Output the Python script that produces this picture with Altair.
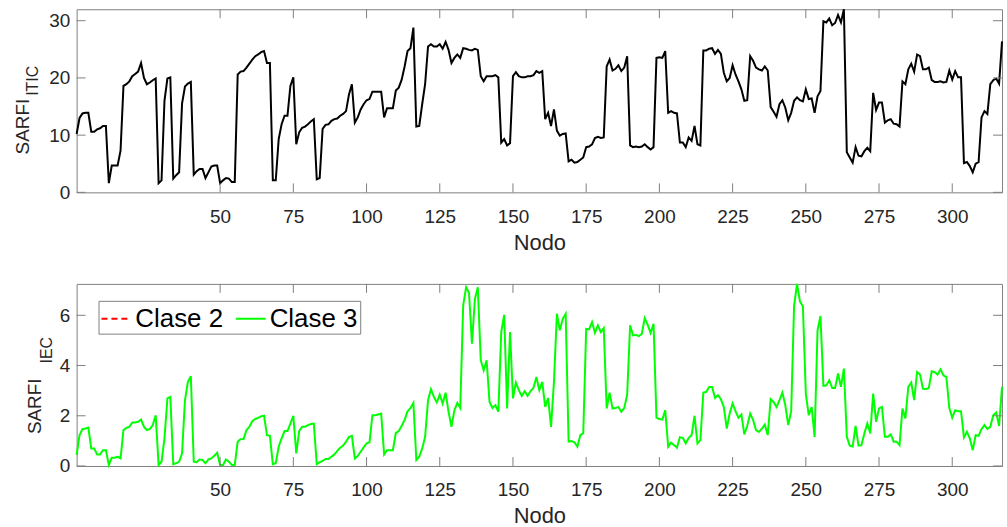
import altair as alt
import pandas as pd

# Node index and the two SARFI indicators per node
nodo = list(range(1, 318))

sarfi_itic = [
    10.2, 13.0, 13.8, 13.9, 13.9, 10.6, 10.6, 11.0, 11.2, 11.6,
    11.6, 1.6, 4.7, 4.7, 4.7, 7.3, 18.6, 18.9, 19.4, 20.3,
    20.7, 21.1, 22.6, 20.0, 18.9, 19.2, 19.6, 19.9, 1.6, 2.1,
    16.0, 19.9, 20.1, 2.4, 3.0, 3.5, 15.5, 18.5, 19.0, 19.3,
    3.1, 3.7, 4.1, 4.1, 2.5, 3.5, 4.5, 4.7, 4.7, 1.6,
    2.1, 2.5, 2.4, 1.8, 1.8, 20.6, 21.1, 21.2, 21.8, 22.5,
    23.2, 23.8, 24.1, 24.5, 24.7, 22.6, 22.6, 2.1, 2.1, 9.3,
    11.9, 13.4, 13.4, 18.6, 20.1, 8.4, 10.5, 11.3, 11.5, 11.9,
    12.4, 12.8, 2.3, 2.5, 11.1, 11.8, 11.9, 12.5, 12.8, 12.9,
    13.4, 13.7, 14.2, 17.1, 18.9, 12.2, 13.1, 14.5, 15.4, 16.1,
    16.3, 17.6, 17.6, 17.6, 17.6, 13.1, 14.7, 14.7, 14.7, 17.8,
    18.3, 19.7, 22.0, 24.7, 25.2, 28.8, 11.5, 11.6, 15.4, 18.9,
    25.5, 25.9, 25.5, 25.5, 25.9, 25.1, 26.3, 24.9, 22.6, 23.5,
    24.1, 23.5, 25.2, 25.1, 24.9, 24.8, 25.1, 24.9, 20.3, 19.4,
    20.3, 20.3, 20.3, 20.5, 20.1, 8.7, 9.3, 8.2, 8.6, 20.3,
    21.0, 20.3, 20.1, 20.1, 20.3, 20.3, 20.5, 21.2, 20.9, 21.2,
    12.8, 13.9, 11.6, 14.5, 10.8, 9.9, 10.2, 10.3, 5.4, 5.7,
    5.2, 5.3, 5.7, 6.1, 7.9, 8.0, 8.4, 9.5, 9.7, 9.5,
    9.6, 22.0, 23.2, 21.3, 21.6, 22.2, 21.2, 21.8, 23.8, 8.2,
    7.9, 8.0, 7.9, 8.0, 8.4, 7.9, 7.5, 7.9, 23.5, 23.6,
    23.5, 24.7, 13.9, 14.2, 13.9, 13.8, 8.7, 8.7, 7.9, 9.6,
    9.0, 11.6, 8.4, 8.2, 24.8, 24.8, 25.1, 25.2, 24.2, 24.9,
    24.2, 20.9, 19.4, 20.0, 22.2, 20.6, 19.4, 18.0, 16.0, 16.1,
    23.8, 23.0, 21.8, 21.5, 21.3, 22.0, 21.3, 14.9, 14.1, 13.2,
    15.4, 16.1, 14.8, 12.6, 13.9, 16.0, 16.6, 16.1, 15.9, 18.0,
    16.3, 16.4, 13.9, 16.8, 17.7, 29.9, 29.7, 30.4, 29.2, 29.6,
    31.0, 29.7, 32.0, 7.0, 6.1, 5.2, 7.9, 6.4, 6.3, 7.2,
    7.8, 7.2, 17.4, 14.4, 15.7, 15.7, 12.2, 12.6, 12.8, 12.0,
    11.9, 11.5, 19.4, 18.9, 21.5, 22.5, 21.1, 24.1, 23.8, 21.5,
    21.5, 21.8, 19.6, 19.3, 19.3, 19.4, 19.2, 19.3, 21.3, 19.7,
    21.2, 20.1, 20.1, 5.1, 5.3, 4.6, 3.5, 5.0, 5.3, 13.1,
    14.2, 13.7, 18.9, 19.6, 19.9, 19.0, 26.4,
]

sarfi_iec = [
    0.44, 1.23, 1.47, 1.49, 1.53, 0.70, 0.70, 0.46, 0.46, 0.63,
    0.63, 0.04, 0.33, 0.33, 0.37, 0.30, 1.43, 1.52, 1.56, 1.73,
    1.73, 1.76, 1.85, 1.56, 1.43, 1.47, 1.63, 2.02, 0.04, 0.17,
    1.10, 2.69, 2.75, 0.07, 0.11, 0.17, 0.50, 2.62, 3.35, 3.58,
    0.17, 0.15, 0.26, 0.24, 0.11, 0.26, 0.30, 0.41, 0.53, 0.04,
    0.04, 0.26, 0.17, 0.04, 0.04, 0.97, 1.07, 1.07, 1.43, 1.56,
    1.79, 1.87, 1.92, 1.98, 2.00, 1.23, 1.20, 0.07, 0.11, 0.77,
    1.10, 1.39, 1.39, 1.69, 2.00, 0.50, 1.39, 1.56, 1.56, 1.63,
    1.67, 1.69, 0.07, 0.15, 0.20, 0.28, 0.28, 0.37, 0.46, 0.60,
    0.73, 0.81, 0.97, 1.16, 1.20, 0.30, 0.40, 0.57, 0.74, 0.90,
    0.94, 2.02, 2.02, 2.05, 2.09, 0.46, 0.63, 0.63, 0.63, 1.32,
    1.39, 1.60, 1.83, 2.18, 2.31, 2.51, 0.24, 0.37, 0.70, 1.16,
    2.62, 3.06, 2.75, 2.53, 2.84, 2.49, 2.92, 2.16, 1.56, 2.22,
    2.51, 2.31, 6.39, 7.12, 6.89, 4.87, 6.65, 7.12, 4.21, 3.81,
    4.21, 2.55, 2.31, 2.42, 2.16, 5.33, 6.02, 2.29, 5.33, 2.69,
    3.32, 3.02, 2.79, 2.98, 2.79, 2.98, 3.11, 3.54, 3.02, 3.35,
    2.35, 2.71, 1.56, 3.35, 6.06, 5.40, 5.86, 6.06, 0.97, 0.99,
    0.94, 0.77, 1.23, 1.30, 5.46, 5.44, 5.73, 5.30, 5.60, 5.33,
    5.49, 2.29, 2.92, 2.29, 2.31, 2.35, 2.16, 2.31, 2.84, 5.60,
    5.20, 5.22, 5.17, 5.26, 5.89, 5.62, 5.30, 5.66, 1.92, 1.87,
    1.85, 2.22, 0.77, 0.93, 0.83, 0.73, 1.15, 1.12, 0.90, 1.12,
    1.23, 2.00, 0.90, 1.03, 2.92, 2.95, 3.15, 3.15, 2.71, 2.82,
    2.66, 2.35, 1.49, 2.09, 2.49, 2.18, 1.92, 2.05, 1.26, 1.60,
    2.09, 1.83, 1.43, 1.36, 1.49, 1.65, 1.23, 2.66, 2.55, 2.35,
    2.62, 2.92, 2.42, 1.63, 2.18, 6.39, 7.25, 6.55, 6.36, 2.88,
    2.02, 2.35, 1.16, 5.40, 5.97, 3.19, 3.21, 3.41, 3.11, 3.11,
    3.68, 3.15, 3.88, 1.16, 0.81, 0.77, 1.60, 0.81, 0.83, 1.30,
    1.69, 1.30, 2.88, 1.76, 2.29, 2.35, 1.16, 1.16, 1.26, 0.97,
    0.97, 0.83, 2.29, 1.89, 3.15, 3.32, 2.62, 3.74, 3.64, 3.08,
    3.06, 3.11, 3.77, 3.74, 3.64, 3.85, 3.61, 3.54, 2.31, 1.92,
    2.22, 2.18, 2.18, 1.14, 1.36, 1.10, 0.63, 1.23, 1.20, 1.47,
    1.63, 1.47, 1.56, 2.02, 2.13, 1.60, 3.15,
]

x_ticks = [50, 75, 100, 125, 150, 175, 200, 225, 250, 275, 300]
itic_ticks = [0, 10, 20, 30]
iec_ticks = [0, 2, 4, 6]
series = ["Clase 2", "Clase 3"]
series_colors = ["#ff0000", "#00ff00"]
series_dash = [[6, 4], [1, 0]]

FONT = "Liberation Sans"
FRAME = "#7f7f7f"
TEXT = "#262626"
W = 930
TICK_LEN = 9


def x_encoding():
    return alt.X(
        "nodo:Q",
        scale=alt.Scale(domain=[nodo[0], nodo[-1]], nice=False, zero=False),
        axis=alt.Axis(
            values=x_ticks, title="Nodo", ticks=False, domain=False, grid=False,
            labelFontSize=19, labelColor=TEXT, labelPadding=15, labelFlush=False,
            titleFontSize=22, titleColor=TEXT, titleFontWeight="normal", titlePadding=6,
        ),
    )


def y_encoding(ymax, ticks):
    return alt.Y(
        "valor:Q",
        scale=alt.Scale(domain=[0, ymax], nice=False),
        axis=alt.Axis(
            values=ticks, title=None, ticks=False, domain=False, grid=False,
            labelFontSize=19, labelColor=TEXT, labelPadding=7, labelFlush=False,
        ),
    )


def frame_ticks(height, ymax, yticks):
    """Inward tick marks on all four sides of the box."""
    xt = pd.DataFrame({"nodo": x_ticks})
    yt = pd.DataFrame({"valor": yticks})
    xe = x_encoding()
    ye = y_encoding(ymax, yticks)
    return [
        alt.Chart(xt).mark_rule(color=FRAME, strokeWidth=1).encode(
            x=xe, y=alt.value(height), y2=alt.value(height - TICK_LEN)),
        alt.Chart(xt).mark_rule(color=FRAME, strokeWidth=1).encode(
            x=xe, y=alt.value(0), y2=alt.value(TICK_LEN)),
        alt.Chart(yt).mark_rule(color=FRAME, strokeWidth=1).encode(
            y=ye, x=alt.value(0), x2=alt.value(TICK_LEN)),
        alt.Chart(yt).mark_rule(color=FRAME, strokeWidth=1).encode(
            y=ye, x=alt.value(W), x2=alt.value(W - TICK_LEN)),
    ]


def y_title(main, sub, x_main, x_sub, y_join, y_sub):
    """Rotated 'SARFI' with a subscript, drawn as two text marks."""
    one = pd.DataFrame({"t": [main]})
    two = pd.DataFrame({"t": [sub]})
    a = alt.Chart(one).mark_text(
        angle=270, align="right", baseline="alphabetic", fontSize=19,
        font=FONT, color=TEXT,
    ).encode(text="t:N", x=alt.value(x_main), y=alt.value(y_join))
    b = alt.Chart(two).mark_text(
        angle=270, align="left", baseline="alphabetic", fontSize=16,
        font=FONT, color=TEXT,
    ).encode(text="t:N", x=alt.value(x_sub), y=alt.value(y_sub))
    # keeps the left edge of both panels at the same place
    pin = alt.Chart(pd.DataFrame({"p": [0]})).mark_rule(color="white").encode(
        x=alt.value(-76), y=alt.value(0), y2=alt.value(1))
    return [pin, a, b]


# ---- top panel: SARFI ITIC ----
H1 = 184
itic_max = max(sarfi_itic)
df_itic = pd.DataFrame({"nodo": nodo, "valor": sarfi_itic})
line_itic = alt.Chart(df_itic).mark_line(color="black", strokeWidth=2).encode(
    x=x_encoding(), y=y_encoding(itic_max, itic_ticks))
top = alt.layer(
    line_itic,
    *frame_ticks(H1, itic_max, itic_ticks),
    *y_title("SARFI", "ITIC", -48, -39, 90, 87),
).properties(width=W, height=H1)

# ---- bottom panel: SARFI IEC ----
H2 = 183
iec_max = max(sarfi_iec)
df_iec = pd.DataFrame({"nodo": nodo, "valor": sarfi_iec, "serie": "Clase 3"})
legend = alt.Legend(
    title=None, orient="none", legendX=22, legendY=17, direction="horizontal",
    symbolType="stroke", symbolSize=900, symbolStrokeWidth=2,
    labelFontSize=26, labelFont=FONT, labelColor="black", labelOffset=3,
    columnPadding=8, padding=2, strokeColor=FRAME, fillColor="white",
)
line_iec = alt.Chart(df_iec).mark_line(strokeWidth=2).encode(
    x=x_encoding(),
    y=y_encoding(iec_max, iec_ticks),
    color=alt.Color("serie:N", scale=alt.Scale(domain=series, range=series_colors), legend=legend),
    strokeDash=alt.StrokeDash("serie:N", scale=alt.Scale(domain=series, range=series_dash), legend=legend),
)
bottom = alt.layer(
    line_iec,
    *frame_ticks(H2, iec_max, iec_ticks),
    *y_title("SARFI", "IEC", -36, -25, 95, 80),
).properties(width=W, height=H2)

chart = alt.vconcat(top, bottom, spacing=25).resolve_legend(
    color="independent", strokeDash="independent"
).properties(
    padding={"left": 0, "top": 3, "right": 0, "bottom": 0},
    background="white",
).configure(font=FONT).configure_view(stroke=FRAME, strokeWidth=1)

chart.save("out.html", embed_options={"renderer": "svg", "actions": False})
